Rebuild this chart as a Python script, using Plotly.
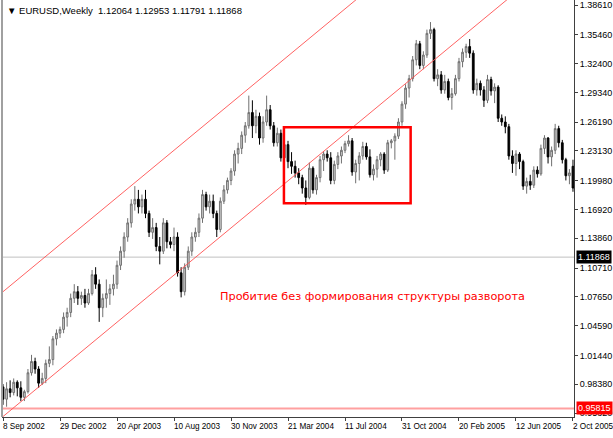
import pandas as pd
import plotly.graph_objects as go

# ---- data (EURUSD weekly, 8 Sep 2002 .. 2 Oct 2005) ----
start_week = "2002-09-08"
n_weeks = 161
opens = [0.981,0.968,0.979,0.975,0.986,0.980,0.970,0.976,0.996,1.008,
         1.000,0.985,0.990,1.006,1.010,1.032,1.038,1.042,1.055,1.060,
         1.075,1.082,1.075,1.078,1.070,1.080,1.100,1.090,1.065,1.075,
         1.080,1.085,1.090,1.110,1.125,1.140,1.155,1.175,1.180,1.172,
         1.180,1.165,1.145,1.150,1.130,1.125,1.155,1.135,1.132,1.140,
         1.102,1.082,1.108,1.125,1.140,1.145,1.160,1.185,1.172,1.178,
         1.165,1.148,1.178,1.190,1.200,1.210,1.228,1.234,1.248,1.258,
         1.272,1.258,1.268,1.245,1.262,1.275,1.258,1.240,1.250,1.224,
         1.238,1.220,1.215,1.208,1.203,1.192,1.182,1.213,1.190,1.203,
         1.222,1.228,1.224,1.200,1.217,1.226,1.232,1.239,1.242,1.209,
         1.218,1.226,1.236,1.225,1.206,1.212,1.222,1.228,1.211,1.240,
         1.242,1.247,1.262,1.281,1.298,1.308,1.328,1.345,1.322,1.333,
         1.356,1.360,1.308,1.312,1.296,1.305,1.288,1.292,1.308,1.326,
         1.336,1.342,1.335,1.296,1.303,1.296,1.285,1.307,1.295,1.299,
         1.266,1.262,1.257,1.226,1.218,1.228,1.220,1.194,1.199,1.195,
         1.211,1.207,1.234,1.245,1.225,1.232,1.255,1.240,1.222,1.205,
         1.215]
highs = [0.984,0.986,0.988,0.990,0.988,0.987,0.978,1.000,1.015,1.012,
         1.003,0.996,1.010,1.024,1.035,1.042,1.045,1.060,1.065,1.080,
         1.090,1.088,1.082,1.085,1.085,1.105,1.108,1.095,1.080,1.095,
         1.090,1.100,1.115,1.130,1.145,1.160,1.180,1.194,1.190,1.185,
         1.190,1.168,1.160,1.155,1.140,1.160,1.158,1.140,1.150,1.145,
         1.108,1.112,1.130,1.145,1.150,1.165,1.190,1.188,1.185,1.185,
         1.168,1.182,1.195,1.203,1.213,1.232,1.240,1.252,1.262,1.290,
         1.285,1.275,1.272,1.268,1.290,1.280,1.262,1.256,1.254,1.243,
         1.242,1.230,1.221,1.213,1.206,1.200,1.219,1.215,1.206,1.226,
         1.231,1.232,1.230,1.221,1.230,1.236,1.242,1.248,1.245,1.222,
         1.230,1.241,1.240,1.233,1.217,1.226,1.230,1.230,1.243,1.244,
         1.250,1.266,1.284,1.302,1.312,1.332,1.349,1.348,1.337,1.360,
         1.368,1.362,1.318,1.316,1.312,1.308,1.298,1.312,1.330,1.340,
         1.345,1.350,1.338,1.308,1.306,1.300,1.312,1.310,1.303,1.301,
         1.270,1.268,1.260,1.232,1.232,1.230,1.222,1.203,1.206,1.215,
         1.215,1.238,1.248,1.246,1.236,1.260,1.258,1.243,1.224,1.212,
         1.222]
lows = [0.962,0.960,0.970,0.972,0.971,0.966,0.966,0.974,0.993,0.995,
        0.980,0.983,0.985,1.002,1.004,1.025,1.033,1.038,1.045,1.055,
        1.070,1.068,1.068,1.065,1.068,1.078,1.085,1.050,1.055,1.065,
        1.068,1.078,1.085,1.105,1.118,1.135,1.150,1.168,1.165,1.165,
        1.160,1.140,1.138,1.125,1.111,1.122,1.128,1.128,1.125,1.098,
        1.076,1.078,1.105,1.120,1.135,1.140,1.155,1.168,1.165,1.160,
        1.140,1.145,1.175,1.186,1.195,1.205,1.218,1.228,1.240,1.255,
        1.245,1.250,1.238,1.240,1.258,1.254,1.236,1.236,1.220,1.215,
        1.213,1.207,1.203,1.196,1.186,1.174,1.180,1.186,1.185,1.198,
        1.210,1.220,1.196,1.196,1.212,1.218,1.229,1.236,1.205,1.197,
        1.200,1.222,1.222,1.203,1.200,1.203,1.215,1.207,1.209,1.234,
        1.222,1.244,1.258,1.276,1.288,1.305,1.322,1.318,1.318,1.330,
        1.350,1.305,1.300,1.292,1.292,1.285,1.275,1.290,1.305,1.320,
        1.330,1.330,1.292,1.290,1.290,1.278,1.282,1.290,1.282,1.262,
        1.258,1.250,1.222,1.208,1.205,1.212,1.190,1.186,1.190,1.192,
        1.203,1.205,1.228,1.218,1.215,1.228,1.235,1.218,1.200,1.196,
        1.188]
closes = [0.968,0.979,0.975,0.986,0.980,0.970,0.976,0.996,1.008,1.000,
          0.985,0.990,1.006,1.010,1.032,1.038,1.042,1.055,1.060,1.075,
          1.082,1.075,1.078,1.070,1.080,1.100,1.090,1.065,1.075,1.080,
          1.085,1.090,1.110,1.125,1.140,1.155,1.175,1.180,1.172,1.180,
          1.165,1.145,1.150,1.130,1.125,1.155,1.135,1.132,1.140,1.102,
          1.082,1.108,1.125,1.140,1.145,1.160,1.185,1.172,1.178,1.165,
          1.148,1.178,1.190,1.200,1.210,1.228,1.234,1.248,1.258,1.272,
          1.258,1.268,1.245,1.262,1.275,1.258,1.240,1.250,1.224,1.238,
          1.220,1.215,1.208,1.203,1.192,1.182,1.213,1.190,1.203,1.222,
          1.228,1.224,1.200,1.217,1.226,1.232,1.239,1.242,1.209,1.218,
          1.226,1.236,1.225,1.206,1.212,1.222,1.228,1.211,1.240,1.242,
          1.247,1.262,1.281,1.298,1.308,1.328,1.345,1.322,1.333,1.356,
          1.360,1.308,1.312,1.296,1.305,1.288,1.292,1.308,1.326,1.336,
          1.342,1.335,1.296,1.303,1.296,1.285,1.307,1.295,1.299,1.266,
          1.262,1.257,1.226,1.218,1.228,1.220,1.194,1.199,1.195,1.211,
          1.207,1.234,1.245,1.225,1.232,1.255,1.240,1.222,1.205,1.208,
          1.192]

price_ticks = [1.38610,1.35460,1.32400,1.29340,1.26190,1.23130,1.19980,1.16920,
               1.13860,1.10710,1.07650,1.04590,1.01440,0.98380,0.95320]
date_ticks = ["2002-09-08","2002-12-29","2003-04-20","2003-08-10","2003-11-30",
              "2004-03-21","2004-07-11","2004-10-31","2005-02-20","2005-06-12","2005-10-02"]
date_labels = ["8 Sep 2002","29 Dec 2002","20 Apr 2003","10 Aug 2003","30 Nov 2003",
               "21 Mar 2004","11 Jul 2004","31 Oct 2004","20 Feb 2005","12 Jun 2005","2 Oct 2005"]

upper_channel_dates = ["2002-09-01", "2004-08-15"]
upper_channel_prices = [1.0789, 1.3976]
lower_channel_dates = ["2002-09-01", "2005-06-01"]
lower_channel_prices = [0.9465, 1.3947]
box_dates = ["2004-03-13", "2004-11-17"]
box_prices = [1.1758, 1.2564]
current_price = 1.11868
low_line_price = 0.95815
header = "\u25BC EURUSD,Weekly  1.12064 1.12953 1.11791 1.11868"
note = "Пробитие без формирования структуры разворота"

dates = pd.date_range(start_week, periods=n_weeks, freq="7D")

fig = go.Figure()
fig.add_trace(go.Candlestick(
    x=dates, open=opens, high=highs, low=lows, close=closes,
    increasing=dict(line=dict(color="#707070", width=1), fillcolor="#d4d4d4"),
    decreasing=dict(line=dict(color="#000000", width=1), fillcolor="#000000"),
    whiskerwidth=0, showlegend=False, hoverinfo="skip"))

fig.add_trace(go.Scatter(x=upper_channel_dates, y=upper_channel_prices, mode="lines",
                         line=dict(color="#ff5050", width=0.9), showlegend=False, hoverinfo="skip"))
fig.add_trace(go.Scatter(x=lower_channel_dates, y=lower_channel_prices, mode="lines",
                         line=dict(color="#ff5050", width=0.9), showlegend=False, hoverinfo="skip"))

fig.add_shape(type="rect", xref="x", yref="y", x0=box_dates[0], x1=box_dates[1],
              y0=box_prices[0], y1=box_prices[1], line=dict(color="#ff0000", width=2.5))
fig.add_shape(type="line", xref="paper", yref="y", x0=0, x1=1, y0=current_price, y1=current_price,
              line=dict(color="#c0c0c0", width=1), layer="below")
fig.add_shape(type="line", xref="paper", yref="y", x0=0, x1=1, y0=low_line_price, y1=low_line_price,
              line=dict(color="#ffa0a0", width=2), layer="below")
fig.add_shape(type="line", xref="paper", yref="paper", x0=0, x1=0, y0=0, y1=1,
              line=dict(color="#a0a0a0", width=2))

font = "Liberation Sans, Arial, sans-serif"
fig.add_annotation(xref="paper", yref="paper", x=0, y=1, xanchor="left", yanchor="top",
                   xshift=3, yshift=-3, text=header, showarrow=False,
                   font=dict(family=font, size=9.5, color="#000000"))
fig.add_annotation(xref="x", yref="y", x="2003-11-04", y=1.077, xanchor="left", yanchor="middle",
                   text=note, showarrow=False, font=dict(family="DejaVu Sans, sans-serif", size=11.3, color="#ff0000"))
fig.add_annotation(xref="paper", yref="y", x=1, y=current_price, xanchor="left", yanchor="middle",
                   xshift=2, text=f"{current_price:.5f}", showarrow=False, bgcolor="#000000",
                   borderpad=1, font=dict(family=font, size=9, color="#ffffff"))
fig.add_annotation(xref="paper", yref="y", x=1, y=low_line_price, xanchor="left", yanchor="middle",
                   xshift=2, text=f"{low_line_price:.5f}", showarrow=False, bgcolor="#ff0000",
                   borderpad=1, font=dict(family=font, size=9, color="#ffffff"))
for d, lab in zip(date_ticks, date_labels):
    fig.add_annotation(xref="x", yref="paper", x=d, y=0, xanchor="left", yanchor="top",
                       xshift=-2, yshift=-3, text=lab, showarrow=False,
                       font=dict(family=font, size=8.2, color="#000000"))

fig.update_layout(
    width=613, height=438,
    margin=dict(l=2, r=39, t=0, b=21),
    paper_bgcolor="#ffffff", plot_bgcolor="#ffffff",
    showlegend=False,
    xaxis=dict(type="date", range=["2002-09-06", "2005-10-04"], rangeslider=dict(visible=False),
               showgrid=False, zeroline=False, showline=True, linecolor="#404040", linewidth=1,
               tickvals=date_ticks, showticklabels=False, ticks="outside", ticklen=3,
               tickcolor="#404040"),
    yaxis=dict(side="right", range=[0.9491, 1.3914], showgrid=False, zeroline=False,
               showline=True, linecolor="#404040", linewidth=1,
               tickvals=price_ticks, ticktext=[f"{v:.5f}" for v in price_ticks],
               ticks="outside", ticklen=3, tickcolor="#404040",
               tickfont=dict(family=font, size=9, color="#000000")),
)

fig.write_html("out.html", config={"displayModeBar": False},
               post_script="document.body.style.margin='0';document.body.style.padding='0';")
